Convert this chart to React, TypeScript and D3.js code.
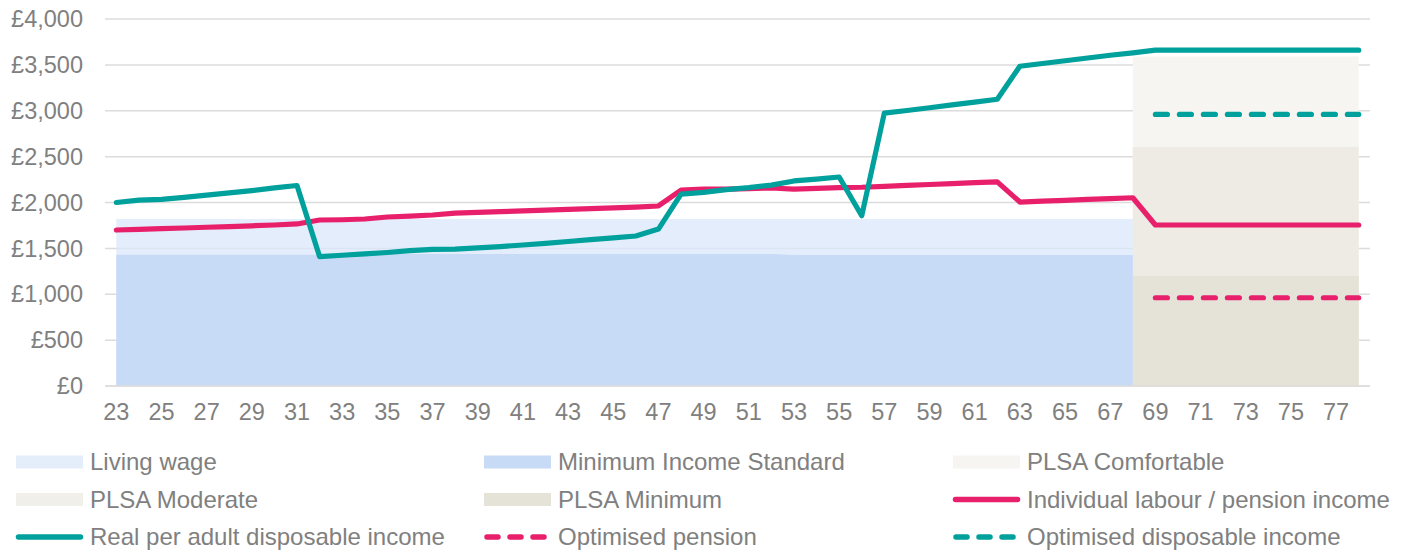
import React from "react";
import * as d3 from "d3";

const ages: number[] = [23,24,25,26,27,28,29,30,31,32,33,34,35,36,37,38,39,40,41,42,43,44,45,46,47,48,49,50,51,52,53,54,55,56,57,58,59,60,61,62,63,64,65,66,67,68,69,70,71,72,73,74,75,76,77,78];
const xTickAges: number[] = [23,25,27,29,31,33,35,37,39,41,43,45,47,49,51,53,55,57,59,61,63,65,67,69,71,73,75,77];
const yTicks: number[] = [0,500,1000,1500,2000,2500,3000,3500,4000];
const yTickLabels: string[] = ["£0","£500","£1,000","£1,500","£2,000","£2,500","£3,000","£3,500","£4,000"];

const N = null;
const livingWage: (number|null)[] = [1820,1820,1820,1820,1820,1820,1820,1820,1820,1820,1820,1820,1820,1820,1820,1820,1820,1820,1820,1820,1820,1820,1820,1820,1820,1820,1820,1820,1820,1820,1820,1820,1820,1820,1820,1820,1820,1820,1820,1820,1820,1820,1820,1820,1820,1820,N,N,N,N,N,N,N,N,N,N];
const minIncomeStd: (number|null)[] = [1430,1430,1430,1430,1430,1430,1430,1430,1430,1430,1440,1440,1440,1440,1440,1440,1440,1440,1440,1440,1440,1440,1440,1440,1440,1440,1440,1440,1440,1440,1427,1427,1427,1427,1427,1427,1427,1427,1427,1427,1427,1427,1427,1427,1427,1427,N,N,N,N,N,N,N,N,N,N];
const plsaComfortable: (number|null)[] = [N,N,N,N,N,N,N,N,N,N,N,N,N,N,N,N,N,N,N,N,N,N,N,N,N,N,N,N,N,N,N,N,N,N,N,N,N,N,N,N,N,N,N,N,N,3590,3590,3590,3590,3590,3590,3590,3590,3590,3590,3590];
const plsaModerate: (number|null)[] = [N,N,N,N,N,N,N,N,N,N,N,N,N,N,N,N,N,N,N,N,N,N,N,N,N,N,N,N,N,N,N,N,N,N,N,N,N,N,N,N,N,N,N,N,N,2605,2605,2605,2605,2605,2605,2605,2605,2605,2605,2605];
const plsaMinimum: (number|null)[] = [N,N,N,N,N,N,N,N,N,N,N,N,N,N,N,N,N,N,N,N,N,N,N,N,N,N,N,N,N,N,N,N,N,N,N,N,N,N,N,N,N,N,N,N,N,1200,1200,1200,1200,1200,1200,1200,1200,1200,1200,1200];
const labourPension: (number|null)[] = [1700,1708,1716,1722,1730,1738,1746,1755,1766,1809,1812,1820,1842,1852,1864,1885,1893,1900,1908,1917,1924,1933,1942,1950,1962,2136,2146,2146,2152,2158,2146,2155,2162,2166,2176,2186,2196,2206,2216,2225,2005,2015,2024,2033,2042,2052,1755,1755,1755,1755,1755,1755,1755,1755,1755,1755];
const disposable: (number|null)[] = [2000,2025,2035,2055,2080,2105,2130,2160,2185,1410,1425,1440,1455,1475,1490,1492,1505,1520,1537,1555,1575,1595,1615,1635,1710,2092,2110,2140,2162,2190,2235,2255,2278,1855,2975,3003,3033,3064,3094,3125,3485,3515,3545,3575,3605,3630,3660,3660,3660,3660,3660,3660,3660,3660,3660,3660];
const optimisedPension: (number|null)[] = [N,N,N,N,N,N,N,N,N,N,N,N,N,N,N,N,N,N,N,N,N,N,N,N,N,N,N,N,N,N,N,N,N,N,N,N,N,N,N,N,N,N,N,N,N,N,962,962,962,962,962,962,962,962,962,962];
const optimisedDisposable: (number|null)[] = [N,N,N,N,N,N,N,N,N,N,N,N,N,N,N,N,N,N,N,N,N,N,N,N,N,N,N,N,N,N,N,N,N,N,N,N,N,N,N,N,N,N,N,N,N,N,2960,2960,2960,2960,2960,2960,2960,2960,2960,2960];

const TEAL = "#00A19C";
const PINK = "#E8206C";
const TEXT = "#808080";
const GRID = "#dcdcdc";
const FONT = "'Liberation Sans', Arial, sans-serif";

export default function App() {
  const W = 1407, H = 552;
  const x = d3.scaleBand<number>().domain(ages).range([105, 1370]).padding(0);
  const cx = (a: number) => (x(a) as number) + x.bandwidth() / 2;
  const y = d3.scaleLinear().domain([0, 4000]).range([386, 19]);

  const area = (vals: (number|null)[]) =>
    d3.area<number>()
      .defined((_, i) => vals[i] != null)
      .x((a) => cx(a))
      .y0(y(0))
      .y1((_, i) => y(vals[i] as number))(ages) || "";
  const line = (vals: (number|null)[]) =>
    d3.line<number>()
      .defined((_, i) => vals[i] != null)
      .x((a) => cx(a))
      .y((_, i) => y(vals[i] as number))(ages) || "";

  const areas = [
    { vals: plsaComfortable, fill: "#f6f5f1", op: 1 },
    { vals: plsaModerate, fill: "#eeebe4", op: 1 },
    { vals: plsaMinimum, fill: "#e5e2d7", op: 1 },
    { vals: livingWage, fill: "#dbe7fa", op: 0.75 },
    { vals: minIncomeStd, fill: "#c8dbf6", op: 1 },
  ];

  const legendCols = [16, 484, 953];
  const legendRows = [462, 499.5, 537];
  const legend = [
    { label: "Living wage", type: "rect", color: "#e4eefb" },
    { label: "Minimum Income Standard", type: "rect", color: "#c8dbf6" },
    { label: "PLSA Comfortable", type: "rect", color: "#f6f5f1" },
    { label: "PLSA Moderate", type: "rect", color: "#f0efea" },
    { label: "PLSA Minimum", type: "rect", color: "#e5e2d7" },
    { label: "Individual labour / pension income", type: "line", color: PINK },
    { label: "Real per adult disposable income", type: "line", color: TEAL },
    { label: "Optimised pension", type: "dash", color: PINK },
    { label: "Optimised disposable income", type: "dash", color: TEAL },
  ];

  return (
    <div style={{ position: "absolute", left: 0, top: 0 }}>
      <svg width={W} height={H} style={{ display: "block", background: "#fff" }} fontFamily={FONT}>
        {yTicks.map((t) => (
          <line key={"g" + t} x1={105} x2={1370} y1={y(t)} y2={y(t)} stroke={GRID} strokeWidth={1.5} />
        ))}
        {areas.map((a, i) => (
          <path key={"a" + i} d={area(a.vals)} fill={a.fill} fillOpacity={a.op} />
        ))}
        <line x1={105} x2={1370} y1={y(0)} y2={y(0)} stroke={GRID} strokeWidth={1.5} />
        {yTicks.map((t, i) => (
          <text key={"yl" + t} x={83} y={y(t)} dy="0.35em" textAnchor="end" fontSize={23.5} fill={TEXT}>{yTickLabels[i]}</text>
        ))}
        {xTickAges.map((a) => (
          <text key={"xl" + a} x={cx(a)} y={420} textAnchor="middle" fontSize={23.5} fill={TEXT}>{a}</text>
        ))}
        <path d={line(labourPension)} fill="none" stroke={PINK} strokeWidth={5.2} strokeLinejoin="round" strokeLinecap="round" />
        <path d={line(disposable)} fill="none" stroke={TEAL} strokeWidth={5.2} strokeLinejoin="round" strokeLinecap="round" />
        <path d={line(optimisedPension)} fill="none" stroke={PINK} strokeWidth={5.2} strokeDasharray="12 12" strokeLinecap="round" />
        <path d={line(optimisedDisposable)} fill="none" stroke={TEAL} strokeWidth={5.2} strokeDasharray="12 12" strokeLinecap="round" />
        {legend.map((l, i) => {
          const lx = legendCols[i % 3];
          const ly = legendRows[Math.floor(i / 3)];
          return (
            <g key={"lg" + i}>
              {l.type === "rect" && <rect x={lx} y={ly - 6.5} width={67} height={13} fill={l.color} />}
              {l.type === "line" && <line x1={lx + 2.5} x2={lx + 64.5} y1={ly} y2={ly} stroke={l.color} strokeWidth={5.5} strokeLinecap="round" />}
              {l.type === "dash" && <line x1={lx + 3} x2={lx + 64} y1={ly} y2={ly} stroke={l.color} strokeWidth={5.5} strokeLinecap="round" strokeDasharray="11 12" />}
              <text x={lx + 74} y={ly} dy="0.35em" fontSize={24} fill={TEXT}>{l.label}</text>
            </g>
          );
        })}
      </svg>
    </div>
  );
}
